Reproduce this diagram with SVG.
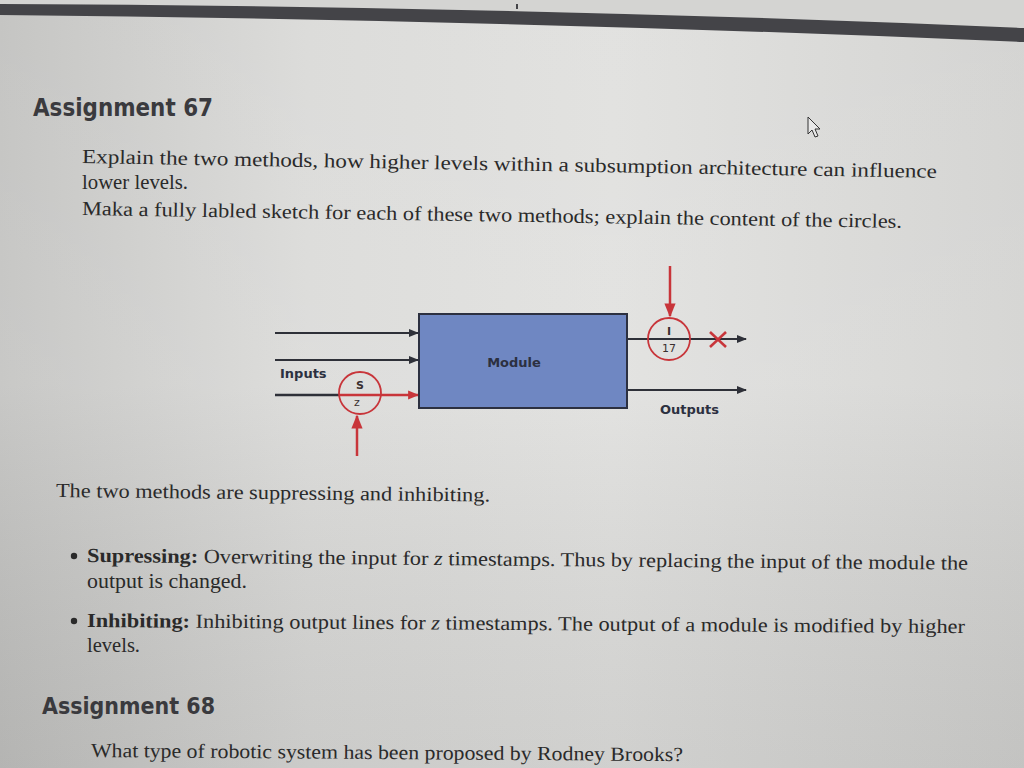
<svg xmlns="http://www.w3.org/2000/svg" width="1024" height="768" viewBox="0 0 1024 768">
<defs>
<linearGradient id="bg" x1="0" y1="0" x2="1" y2="0">
<stop offset="0" stop-color="#c2c2c0"/>
<stop offset="0.3" stop-color="#dadad8"/>
<stop offset="0.6" stop-color="#e0e0de"/>
<stop offset="1" stop-color="#d2d2d0"/>
</linearGradient>
<linearGradient id="vg" x1="0" y1="0" x2="0" y2="1">
<stop offset="0" stop-color="#ffffff" stop-opacity="0.05"/>
<stop offset="0.5" stop-color="#ffffff" stop-opacity="0.1"/>
<stop offset="1" stop-color="#000000" stop-opacity="0.07"/>
</linearGradient>
<marker id="ab" viewBox="0 0 10 10" refX="9" refY="5" markerWidth="10" markerHeight="10" markerUnits="userSpaceOnUse" orient="auto"><path d="M0,1 L10,5 L0,9 z" fill="#2e3038"/></marker>
<marker id="ar" viewBox="0 0 10 10" refX="9" refY="5" markerWidth="11" markerHeight="11" markerUnits="userSpaceOnUse" orient="auto"><path d="M0,1 L10,5 L0,9 z" fill="#c8353a"/></marker>
<marker id="arb" viewBox="0 0 10 10" refX="9" refY="5" markerWidth="14" markerHeight="14" markerUnits="userSpaceOnUse" orient="auto"><path d="M0,1 L10,5 L0,9 z" fill="#c8353a"/></marker>
</defs>
<style>
.serif{font-family:"Liberation Serif","DejaVu Serif",serif;font-size:20px;fill:#2a2a2a}
.head{font-family:"DejaVu Sans","Liberation Sans",sans-serif;font-weight:bold;fill:#3a3a3e}
.dia{font-family:"DejaVu Sans","Liberation Sans",sans-serif;font-weight:bold;font-size:13px;fill:#2c3040}
.ln{stroke:#2e3038;stroke-width:2;fill:none}
.red{stroke:#c8353a;stroke-width:2.5;fill:none}
.circ{stroke:#c8353a;stroke-width:1.8;fill:none}
.cl{font-family:"DejaVu Sans","Liberation Sans",sans-serif;font-size:11px;fill:#3a3030;text-anchor:middle}
</style>
<rect width="1024" height="768" fill="url(#bg)"/>
<rect width="1024" height="768" fill="url(#vg)"/>
<path d="M0,0 L1024,0 L1024,28 Q512,6 0,4 Z" fill="#d4d4d2"/>
<path d="M0,4 Q512,6 1024,28 L1024,42 Q512,20 0,15 Z" fill="#444448"/>
<line x1="517" y1="4" x2="517" y2="9" stroke="#444448" stroke-width="2"/>

<text class="head" x="33" y="116" font-size="24" textLength="180" lengthAdjust="spacingAndGlyphs">Assignment 67</text>
<path d="M808,117 L808,134 L812,130 L815,137 L818,136 L815,129 L820,129 Z" fill="#e8e8e8" stroke="#333" stroke-width="1"/>

<text class="serif" x="82" y="163" transform="rotate(1.0 82 163)" textLength="855" lengthAdjust="spacingAndGlyphs">Explain the two methods, how higher levels within a subsumption architecture can influence</text>
<text class="serif" x="82" y="189" textLength="106" lengthAdjust="spacingAndGlyphs">lower levels.</text>
<text class="serif" x="82" y="215" transform="rotate(0.9 82 215)" textLength="820" lengthAdjust="spacingAndGlyphs">Maka a fully labled sketch for each of these two methods; explain the content of the circles.</text>

<g id="connectors">
<line class="ln" x1="275" y1="333" x2="418" y2="333" marker-end="url(#ab)"/>
<line class="ln" x1="275" y1="360" x2="418" y2="360" marker-end="url(#ab)"/>
<line x1="275" y1="395" x2="340" y2="395" stroke="#2e3038" stroke-width="2.5"/>
<line class="red" x1="340" y1="395" x2="418" y2="395" marker-end="url(#ar)"/>
<line class="red" x1="357" y1="456" x2="357" y2="416" marker-end="url(#arb)"/>
<line class="ln" x1="627" y1="339" x2="746" y2="339" marker-end="url(#ab)"/>
<line class="ln" x1="627" y1="390" x2="746" y2="390" marker-end="url(#ab)"/>
<line class="red" x1="670" y1="266" x2="670" y2="316" marker-end="url(#arb)"/>
</g>

<g id="module">
<rect x="419" y="314" width="208" height="94" fill="#6f87c2" stroke="#2c3040" stroke-width="2"/>
<text class="dia" x="514" y="367" text-anchor="middle" font-size="14">Module</text>
</g>

<g id="inputs-label"><text class="dia" x="280" y="378">Inputs</text></g>
<g id="outputs-label"><text class="dia" x="660" y="414">Outputs</text></g>

<g id="suppressor">
<circle class="circ" cx="360" cy="393" r="21"/>
<text class="cl" x="360" y="389" font-weight="bold" font-size="13">S</text>
<text class="cl" x="357" y="406">z</text>
</g>

<g id="inhibitor">
<circle class="circ" cx="669" cy="339" r="21"/>
<text class="cl" x="669" y="335" font-family="Liberation Serif" font-weight="bold" font-size="14">I</text>
<text class="cl" x="669" y="352" font-size="10">17</text>
</g>

<g id="cross">
<line class="red" x1="710" y1="332" x2="726" y2="347"/>
<line class="red" x1="726" y1="332" x2="710" y2="347"/>
</g>

<text class="serif" x="56" y="497" transform="rotate(0.6 56 497)" textLength="434" lengthAdjust="spacingAndGlyphs">The two methods are suppressing and inhibiting.</text>

<circle cx="74" cy="556" r="3.2" fill="#2a2a2a"/>
<text class="serif" x="87" y="562" transform="rotate(0.5 87 562)" textLength="881" lengthAdjust="spacingAndGlyphs"><tspan font-weight="bold">Supressing:</tspan> Overwriting the input for <tspan font-style="italic">z</tspan> timestamps. Thus by replacing the input of the module the</text>
<text class="serif" x="87" y="588" textLength="160" lengthAdjust="spacingAndGlyphs">output is changed.</text>

<circle cx="74" cy="621" r="3.2" fill="#2a2a2a"/>
<text class="serif" x="87" y="627" transform="rotate(0.4 87 627)" textLength="878" lengthAdjust="spacingAndGlyphs"><tspan font-weight="bold">Inhibiting:</tspan> Inhibiting output lines for <tspan font-style="italic">z</tspan> timestamps. The output of a module is modified by higher</text>
<text class="serif" x="87" y="652" textLength="53" lengthAdjust="spacingAndGlyphs">levels.</text>

<text class="head" x="42" y="714" font-size="23" textLength="173" lengthAdjust="spacingAndGlyphs">Assignment 68</text>
<text class="serif" x="91" y="757" fill="#444" transform="rotate(0.4 91 757)" textLength="592" lengthAdjust="spacingAndGlyphs">What type of robotic system has been proposed by Rodney Brooks?</text>
</svg>
